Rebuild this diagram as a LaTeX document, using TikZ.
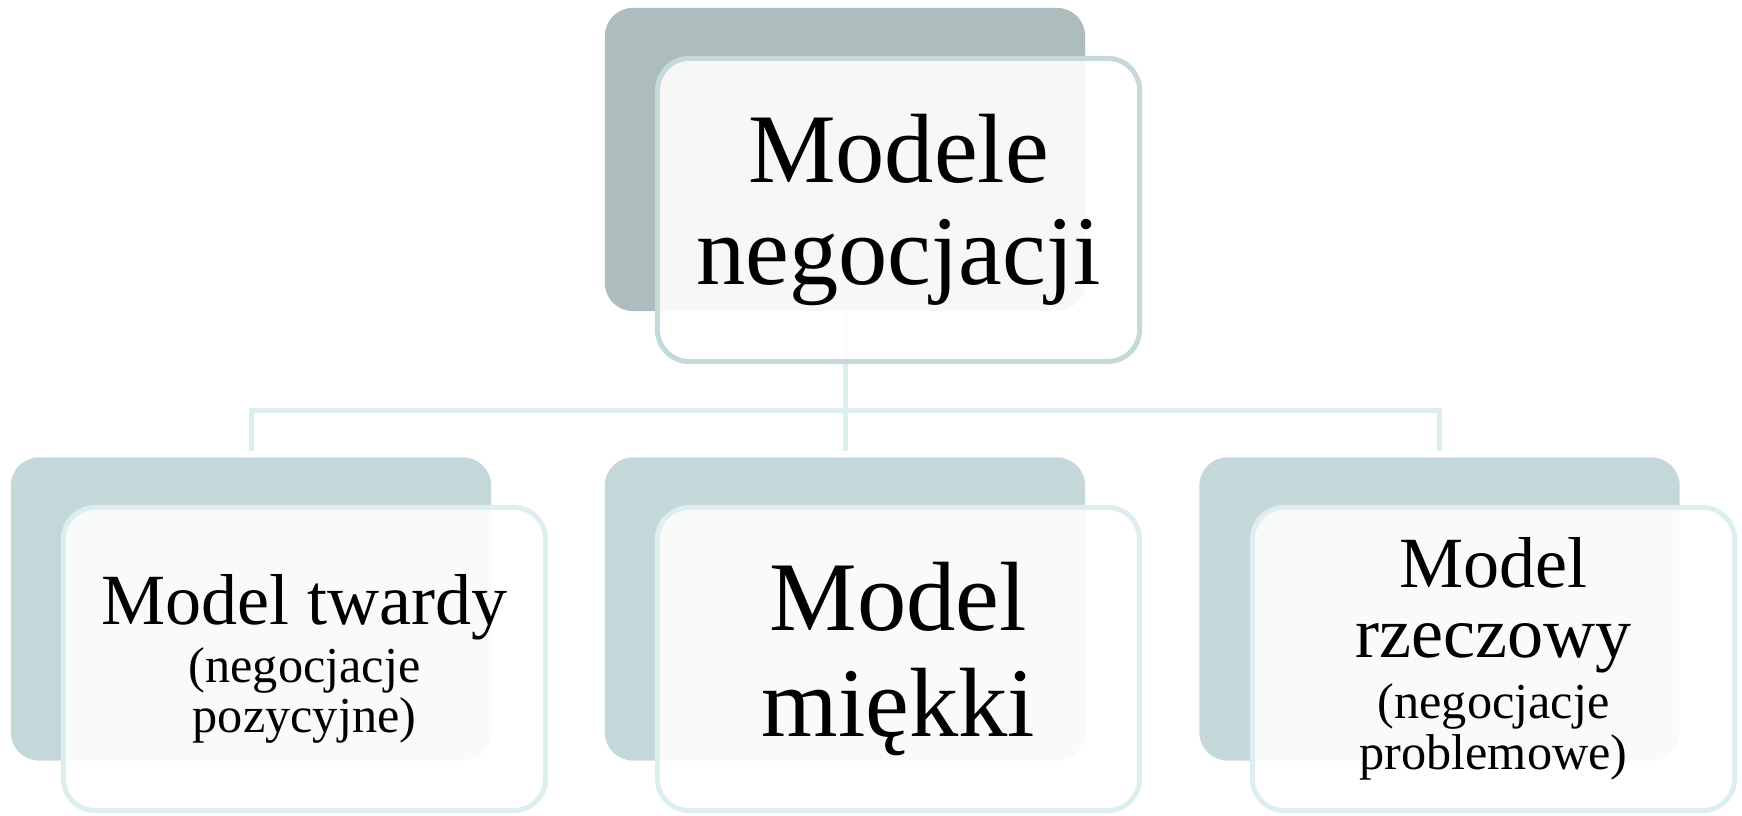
\documentclass[tikz,border=0pt]{standalone}
\usepackage{fontspec}
\setmainfont{Liberation Serif}
\definecolor{topback}{HTML}{ADBDBD}
\definecolor{subback}{HTML}{C4D7D9}
\definecolor{topedge}{HTML}{C5D8DA}
\definecolor{subedge}{HTML}{DCEEF0}
\definecolor{wire}{HTML}{DCEEF0}
% every line break in a card carries its own baseline distance
\newcommand{\cardfont}[1]{\fontsize{#1}{0pt}\selectfont\lineskiplimit=-1000pt\lineskip=0pt}
\newcommand{\smalltxt}{\fontsize{14.3}{0pt}\selectfont}
\begin{document}
\begin{tikzpicture}[x=0.01cm,y=-0.01cm,
  backbox/.style={rectangle, rounded corners=0.28cm, inner sep=0pt,
    minimum width=4.8cm, minimum height=3.03cm, draw=none},
  frontbox/.style={rectangle, rounded corners=0.32cm, inner sep=0pt,
    minimum width=4.82cm, minimum height=3.03cm, line width=0.05cm,
    fill=white, fill opacity=0.9, text opacity=1, align=center},
  conn/.style={draw=wire, line width=0.05cm}]
\useasboundingbox (0,0) rectangle (1742,816);

% shadow plates behind the cards
\node[backbox, fill=topback] (tb) at (845,159.5) {};
\node[backbox, fill=subback] (lb) at (251,609) {};
\node[backbox, fill=subback] (mb) at (845,609) {};
\node[backbox, fill=subback] (rb) at (1439.5,609) {};

% tree connectors
\coordinate (bus) at (0,411);
\draw[conn] (tb.south) -- (tb.south |- bus);
\draw[conn, shorten >=0.06cm] (tb.south |- bus) -| (lb.north);
\draw[conn, shorten >=0.06cm] (tb.south |- bus) -| (rb.north);
\draw[conn, shorten >=0.06cm] (tb.south |- bus) -- (mb.north);

% cards with text
\node[frontbox, draw=topedge, font=\cardfont{28}] (tf) at (898.5,210)
  {Modele\\[29pt] negocjacji};
\node[frontbox, draw=subedge, font=\cardfont{20.5}] (lf) at (304.5,659)
  {Model twardy\\[16.5pt] {\smalltxt (negocjacje}\\[14pt] {\smalltxt pozycyjne)}};
\node[frontbox, draw=subedge, font=\cardfont{28}] (mf) at (898.5,659)
  {Model\\[30.2pt] miękki};
\node[frontbox, draw=subedge, font=\cardfont{20.5}] (rf) at (1493.5,659)
  {Model\\[19.9pt] rzeczowy\\[17.2pt] {\smalltxt (negocjacje}\\[14.5pt] {\smalltxt problemowe)}};
\end{tikzpicture}
\end{document}
